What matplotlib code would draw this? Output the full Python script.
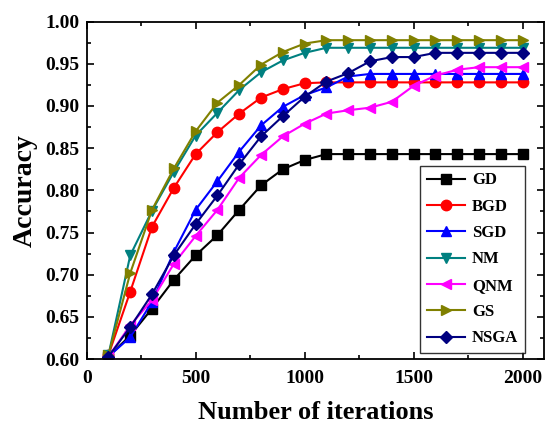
import matplotlib.pyplot as plt
import numpy as np

plt.rcParams['font.family'] = ['Liberation Serif', 'DejaVu Serif']
plt.rcParams['font.weight'] = 'bold'

# iterations
iters = [100, 200, 300, 400, 500, 600, 700, 800, 900, 1000,
         1100, 1200, 1300, 1400, 1500, 1600, 1700, 1800, 1900, 2000]

gd = [0.603, 0.628, 0.660, 0.694, 0.723, 0.747, 0.777, 0.806, 0.825, 0.836,
      0.843, 0.843, 0.843, 0.843, 0.843, 0.843, 0.843, 0.843, 0.843, 0.843]
bgd = [0.605, 0.680, 0.757, 0.803, 0.843, 0.869, 0.891, 0.910, 0.920, 0.927,
       0.928, 0.928, 0.928, 0.928, 0.928, 0.928, 0.928, 0.928, 0.928, 0.928]
sgd = [0.603, 0.626, 0.668, 0.727, 0.777, 0.811, 0.846, 0.877, 0.899, 0.913,
       0.922, 0.935, 0.938, 0.938, 0.938, 0.938, 0.938, 0.938, 0.938, 0.938]
nm = [0.605, 0.723, 0.776, 0.822, 0.865, 0.892, 0.919, 0.940, 0.954, 0.963,
      0.969, 0.969, 0.969, 0.969, 0.969, 0.969, 0.969, 0.969, 0.969, 0.969]
qnm = [0.603, 0.640, 0.670, 0.713, 0.746, 0.777, 0.815, 0.842, 0.864, 0.879,
       0.891, 0.895, 0.898, 0.905, 0.924, 0.936, 0.943, 0.946, 0.946, 0.946]
gs = [0.605, 0.702, 0.777, 0.826, 0.870, 0.904, 0.925, 0.949, 0.964, 0.974,
      0.978, 0.978, 0.978, 0.978, 0.978, 0.978, 0.978, 0.978, 0.978, 0.978]
nsga = [0.603, 0.638, 0.677, 0.723, 0.760, 0.794, 0.831, 0.864, 0.888, 0.911,
        0.929, 0.939, 0.953, 0.958, 0.958, 0.963, 0.963, 0.963, 0.963, 0.963]

series = [
    ("GD", gd, "black", "s"),
    ("BGD", bgd, "red", "o"),
    ("SGD", sgd, "blue", "^"),
    ("NM", nm, "#008080", "v"),
    ("QNM", qnm, "magenta", "<"),
    ("GS", gs, "#808000", ">"),
    ("NSGA", nsga, "#000080", "D"),
]

fig = plt.figure(figsize=(5.45, 4.24), dpi=100)
ax = fig.add_axes([0.159, 0.153, 0.840, 0.796])

for name, vals, col, mk in series:
    ms = 6.5 if mk == "D" else 7.5
    ax.plot(iters, vals, color=col, marker=mk, markersize=ms, linewidth=1.5,
            label=name)

ax.set_xlim(0, 2100)
ax.set_ylim(0.60, 1.00)
ax.set_xticks([0, 500, 1000, 1500, 2000])
ax.set_xticks(np.arange(250, 2100, 500), minor=True)
ax.set_yticks(np.arange(0.60, 1.001, 0.05))
ax.set_yticks(np.arange(0.625, 1.0, 0.05), minor=True)
ax.yaxis.set_major_formatter(plt.FormatStrFormatter('%.2f'))
ax.tick_params(which='both', direction='in', top=True, right=True,
               labelsize=14, width=1.2)
ax.tick_params(axis='x', which='major', pad=8)
ax.tick_params(axis='y', which='major', pad=5)
ax.tick_params(which='major', length=5)
ax.tick_params(which='minor', length=3)
for s in ax.spines.values():
    s.set_linewidth(1.3)

ax.set_xlabel("Number of iterations", fontsize=19, fontweight='bold', labelpad=10)
ax.set_ylabel("Accuracy", fontsize=20, fontweight='bold', labelpad=6)

leg = ax.legend(loc='lower right', bbox_to_anchor=(0.957, 0.018), fontsize=12,
                fancybox=False, edgecolor='black', handlelength=2.3,
                handletextpad=0.4, labelspacing=0.62, borderpad=0.4,
                borderaxespad=0)
leg.get_frame().set_linewidth(1.0)

fig.savefig("out.png", dpi=100)
